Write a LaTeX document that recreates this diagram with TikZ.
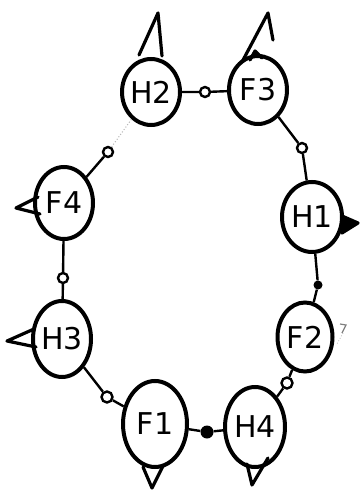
\documentclass[tikz,border=0pt]{standalone}
\usepackage{fontspec}
\setmainfont{DejaVu Sans}
\usetikzlibrary{shapes.geometric}
\newcommand{\atomlabel}[1]{\makebox[0pt][c]{#1}}
\begin{document}
\begin{tikzpicture}[x=1pt,y=-1pt,
  atom/.style={ellipse,draw,line width=4pt,inner sep=0pt,font=\fontsize{30}{30}\selectfont},
  bond/.style={line width=2.4pt},
  faint/.style={line width=1pt,gray!60,dotted},
  knot/.style={circle,draw,line width=2.4pt,minimum size=10pt,inner sep=0pt},
  blob/.style={circle,fill,minimum size=13pt,inner sep=0pt},
  spike/.style={line width=3.2pt,line join=round,line cap=round}]
\useasboundingbox (0,0) rectangle (363,492);
% atoms
\node[atom,minimum width=58pt,minimum height=66pt] (H2) at (151,92) {\atomlabel{H2}};
\node[atom,minimum width=58pt,minimum height=68pt] (F3) at (258,90) {\atomlabel{F3}};
\node[atom,minimum width=58pt,minimum height=72pt] (F4) at (64,203) {\atomlabel{F4}};
\node[atom,minimum width=60pt,minimum height=70pt] (H1) at (312,217) {\atomlabel{H1}};
\node[atom,minimum width=58pt,minimum height=76pt] (H3) at (62,339) {\atomlabel{H3}};
\node[atom,minimum width=55pt,minimum height=69pt] (F2) at (305,337) {\atomlabel{F2}};
\node[atom,minimum width=64pt,minimum height=86pt] (F1) at (155,424) {\atomlabel{F1}};
\node[atom,minimum width=60pt,minimum height=80pt] (H4) at (255,427) {\atomlabel{H4}};
% markers
\node[knot] (m1) at (108,152) {};
\node[knot] (m2) at (205,92) {};
\node[knot] (m3) at (302,148) {};
\node[knot] (m4) at (63,278) {};
\node[blob,minimum size=9pt] (m5) at (318,285) {};
\node[knot,minimum size=11pt] (m6) at (107,397) {};
\node[blob] (m7) at (207,432) {};
\node[knot,minimum size=11pt] (m8) at (287,383) {};
% bonds
\draw[bond] (F4) -- (m1);
\draw[faint] (m1) -- (H2);
\draw[bond] (H2) -- (m2) -- (F3);
\draw[bond] (F3) -- (m3) -- (H1);
\draw[bond] (F4) -- (m4) -- (H3);
\draw[bond] (H1) -- (m5) -- (F2);
\draw[bond] (H3) -- (m6) -- (F1);
\draw[bond] (F1) -- (m7) -- (H4);
\draw[bond] (F2) -- (m8) -- (H4);
% spikes
\draw[spike] (139,55) -- (158,13) -- (162,56);
\draw[spike] (242,62) -- (268,13) -- (273,40);
\draw[spike] (250,60) -- (255,51) -- (262,58);
\draw[spike] (38,197) -- (16,208) -- (40,214);
\draw[spike,fill] (342,216) -- (358,223) -- (342,233) -- cycle;
\draw[spike] (34,329) -- (7,341) -- (36,347);
\draw[spike] (143,467) -- (152,488) -- (163,466);
\draw[spike] (247,464) -- (252,485) -- (268,458);
% stray marks near F2
\draw[line width=1.2pt,gray] (340,324) -- (346,325) -- (342,333);
\draw[line width=0.8pt,gray!60,dotted] (343,333) -- (337,344);
\end{tikzpicture}
\end{document}
